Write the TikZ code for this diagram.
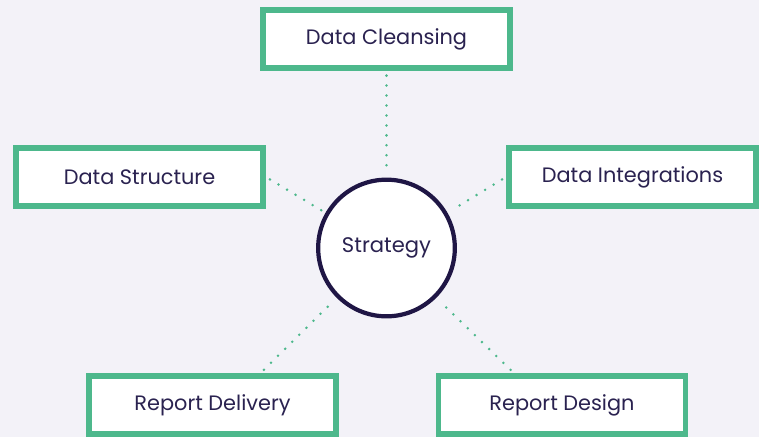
\documentclass[tikz,border=0pt]{standalone}
\usepackage{fontspec}
\setmainfont{Poppins}
\usepackage{xcolor}
\usetikzlibrary{calc}
\definecolor{bgcol}{HTML}{F3F2F8}
\definecolor{boxgreen}{HTML}{4DB88C}
\definecolor{navy}{HTML}{1F1645}
\definecolor{txtcol}{HTML}{2A2250}

\tikzset{
  topic/.style={draw=boxgreen, line width=5pt, fill=white, minimum width=7.41cm,
    minimum height=1.74cm, text=txtcol, font=\fontsize{17.8}{20}\selectfont},
  hub/.style={circle, draw=navy, line width=3.6pt, fill=white, minimum size=4.1cm,
    text=txtcol, font=\fontsize{18}{20}\selectfont},
  link/.style={draw=boxgreen, line width=2.4pt, line cap=round,
    dash pattern=on 0pt off 8.5pt, shorten <=4pt, shorten >=4pt}
}

\begin{document}
\begin{tikzpicture}[x=0.03cm,y=-0.03cm]
\useasboundingbox (0,0) rectangle (759,437);
\fill[bgcol] (0,0) rectangle (759,437);

% the hub
\node[hub] (strategy) at (386.5,248) {Strategy};

% the five topics
\node[topic] (cleansing)    at (386.5,39)  {Data Cleansing};
\node[topic] (structure)    at (139.5,177) {Data Structure};
\node[topic] (integrations) at (632.5,177) {Data Integrations};
\node[topic] (delivery)     at (212.5,405) {Report Delivery};
\node[topic] (design)       at (562,405)   {Report Design};

% dotted links
\draw[link] (cleansing.south) -- (strategy.north);
\draw[link] (structure.east) -- (strategy.150);
\draw[link] (integrations.west) -- (strategy.30);
\draw[link] ($(delivery.north west)!0.69!(delivery.north east)$) -- (strategy.225);
\draw[link] ($(design.north west)!0.31!(design.north east)$) -- (strategy.315);

\end{tikzpicture}
\end{document}
